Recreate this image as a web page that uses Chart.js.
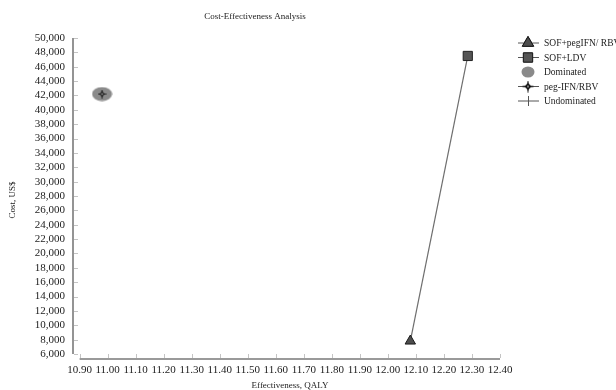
<!DOCTYPE html>
<html>
<head>
<meta charset="utf-8">
<script src="https://cdn.jsdelivr.net/npm/chart.js"></script>
<style>
  body { margin: 0; background: #fff; }
</style>
</head>
<body>
<canvas id="cea" width="616" height="390"></canvas>
<script>
// strategies, QALYs and costs
var strategies = ["SOF+pegIFN/ RBV", "SOF+LDV", "peg-IFN/RBV"];
var qaly = [12.08, 12.285, 10.98];
var cost = [7800, 47500, 42200];
var isDominated = [false, false, true];

var qalyTicks = [10.90, 11.00, 11.10, 11.20, 11.30, 11.40, 11.50, 11.60, 11.70, 11.80, 11.90, 12.00, 12.10, 12.20, 12.30, 12.40];
var costTicks = [6000, 8000, 10000, 12000, 14000, 16000, 18000, 20000, 22000, 24000, 26000, 28000, 30000,
                 32000, 34000, 36000, 38000, 40000, 42000, 44000, 46000, 48000, 50000];

var serif = "'Liberation Serif', 'Times New Roman', serif";

// gray ellipse for dominated strategies
function ellipseMark(w, h) {
    var c = document.createElement("canvas");
    c.width = w; c.height = h;
    var g = c.getContext("2d");
    g.fillStyle = "#8a8a8a";
    g.beginPath();
    g.ellipse(w / 2, h / 2, w / 2 - 0.5, h / 2 - 0.5, 0, 0, Math.PI * 2);
    g.fill();
    return c;
}

// small diamond with a cross through it
function diamondCross(s) {
    var c = document.createElement("canvas");
    c.width = s; c.height = s;
    var g = c.getContext("2d");
    var m = s / 2, r = s * 0.3;
    g.fillStyle = "#111";
    g.beginPath();
    g.moveTo(m, m - r); g.lineTo(m + r, m); g.lineTo(m, m + r); g.lineTo(m - r, m);
    g.closePath();
    g.fill();
    g.strokeStyle = "#111";
    g.lineWidth = 1.2;
    g.beginPath();
    g.moveTo(m, 0.5); g.lineTo(m, s - 0.5);
    g.moveTo(0.5, m); g.lineTo(s - 0.5, m);
    g.stroke();
    g.fillStyle = "#bbb";
    g.fillRect(m - 0.8, m - 0.8, 1.6, 1.6);
    return c;
}

var domMark = ellipseMark(21, 15);
var domMarkLegend = ellipseMark(14, 12);
var pegMark = diamondCross(9);
var pegMarkLegend = diamondCross(12);

var frontier = [];
for (var i = 0; i < strategies.length; i++) {
    if (!isDominated[i]) frontier.push({ x: qaly[i], y: cost[i] });
}
frontier.sort(function (a, b) { return a.x - b.x; });

var datasets = [
    {
        label: strategies[0],
        data: [{ x: qaly[0], y: cost[0] }],
        pointStyle: "triangle",
        pointRadius: 6,
        backgroundColor: "#4d4d4d",
        borderColor: "#1a1a1a",
        borderWidth: 1,
        order: 1
    },
    {
        label: strategies[1],
        data: [{ x: qaly[1], y: cost[1] }],
        pointStyle: "rect",
        pointRadius: 6.5,
        backgroundColor: "#555555",
        borderColor: "#222222",
        borderWidth: 1,
        order: 1
    },
    {
        label: "Dominated",
        data: [{ x: qaly[2], y: cost[2] }],
        pointStyle: domMark,
        pointRadius: 10,
        order: 3
    },
    {
        label: strategies[2],
        data: [{ x: qaly[2], y: cost[2] }],
        pointStyle: pegMark,
        pointRadius: 5,
        order: 1
    },
    {
        label: "Undominated",
        data: frontier,
        showLine: true,
        pointRadius: 0,
        borderColor: "#6e6e6e",
        borderWidth: 1.2,
        order: 5
    }
];

var axesPlugin = {
    id: "axesPlugin",
    beforeDatasetsDraw: function (chart) {
        var ctx = chart.ctx;
        var xs = chart.scales.x, ys = chart.scales.y;
        var yLineX = chart.chartArea.left - 1;
        var xLineY = chart.chartArea.bottom;
        ctx.save();
        ctx.strokeStyle = "#7a7a7a";
        ctx.lineWidth = 1.6;
        ctx.beginPath();
        ctx.moveTo(yLineX, ys.getPixelForValue(costTicks[0]));
        ctx.lineTo(yLineX, ys.getPixelForValue(costTicks[costTicks.length - 1]));
        ctx.moveTo(xs.getPixelForValue(qalyTicks[0]), xLineY);
        ctx.lineTo(xs.getPixelForValue(qalyTicks[qalyTicks.length - 1]), xLineY);
        ctx.stroke();
        ctx.strokeStyle = "#c4c4c4";
        ctx.lineWidth = 1;
        ctx.beginPath();
        costTicks.forEach(function (v) {
            var p = Math.round(ys.getPixelForValue(v)) + 0.5;
            ctx.moveTo(yLineX + 1, p);
            ctx.lineTo(yLineX + 5, p);
        });
        qalyTicks.forEach(function (v) {
            var p = Math.round(xs.getPixelForValue(v)) + 0.5;
            ctx.moveTo(p, xLineY - 1);
            ctx.lineTo(p, xLineY - 5);
        });
        ctx.stroke();
        ctx.restore();
    },
    afterDraw: function (chart) {
        var ctx = chart.ctx;
        ctx.save();
        ctx.fillStyle = "#222";
        ctx.textAlign = "center";
        ctx.textBaseline = "middle";
        ctx.font = "9px " + serif;
        ctx.fillText("Cost-Effectiveness Analysis", 255, 17);
        ctx.font = "9px " + serif;
        ctx.fillText("Effectiveness, QALY", 290, 386);
        ctx.save();
        ctx.translate(13, 200);
        ctx.rotate(-Math.PI / 2);
        ctx.fillText("Cost, US$", 0, 0);
        ctx.restore();

        // legend
        var ly = [43, 57.5, 72, 86.5, 101];
        ctx.font = "9.5px " + serif;
        ctx.textAlign = "left";
        chart.data.datasets.forEach(function (ds, k) {
            var y = ly[k], cx = 528;
            ctx.strokeStyle = "#555";
            ctx.lineWidth = 1;
            if (ds.label !== "Dominated") {
                ctx.beginPath();
                ctx.moveTo(518, y); ctx.lineTo(539, y);
                if (ds.label === "Undominated") {
                    ctx.moveTo(cx + 0.5, y - 5); ctx.lineTo(cx + 0.5, y + 5);
                }
                ctx.stroke();
            }
            if (ds.label === "Dominated") {
                ctx.drawImage(domMarkLegend, cx - 7, y - 6);
            } else if (ds.label === strategies[2]) {
                ctx.drawImage(pegMarkLegend, cx - 6, y - 6);
            } else if (ds.label !== "Undominated") {
                ctx.fillStyle = ds.backgroundColor;
                ctx.strokeStyle = ds.borderColor;
                Chart.helpers.drawPoint(ctx, { pointStyle: ds.pointStyle, radius: 6.5, borderWidth: 1, rotation: 0 }, cx, y);
                ctx.fill();
                ctx.stroke();
            }
            ctx.fillStyle = "#222";
            ctx.fillText(ds.label, 544, y + 0.5);
        });
        ctx.restore();
    }
};

var config = {
    type: "scatter",
    data: { datasets: datasets },
    options: {
        responsive: false,
        animation: false,
        layout: { padding: { left: 0, right: 116, top: 38, bottom: 0 } },
        plugins: {
            legend: { display: false },
            title: { display: false },
            tooltip: { enabled: false }
        },
        scales: {
            x: {
                type: "linear",
                min: 10.88,
                max: 12.40,
                afterFit: function (s) { s.height = 31; },
                afterBuildTicks: function (s) { s.ticks = qalyTicks.map(function (v) { return { value: v }; }); },
                grid: { display: false, drawTicks: false },
                border: { display: false },
                ticks: {
                    padding: 5,
                    autoSkip: false,
                    maxRotation: 0,
                    minRotation: 0,
                    color: "#222",
                    font: { family: serif, size: 11 },
                    callback: function (v) { return Number(v).toFixed(2); }
                }
            },
            y: {
                type: "linear",
                min: 5300,
                max: 50000,
                afterFit: function (s) { s.width = 74; },
                afterBuildTicks: function (s) { s.ticks = costTicks.map(function (v) { return { value: v }; }); },
                grid: { display: false, drawTicks: false },
                border: { display: false },
                ticks: {
                    padding: 9,
                    autoSkip: false,
                    color: "#222",
                    font: { family: serif, size: 11 },
                    callback: function (v) { return Number(v).toLocaleString("en-US"); }
                }
            }
        }
    },
    plugins: [axesPlugin]
};

var chart = new Chart(document.getElementById("cea"), config);
</script>
</body>
</html>
